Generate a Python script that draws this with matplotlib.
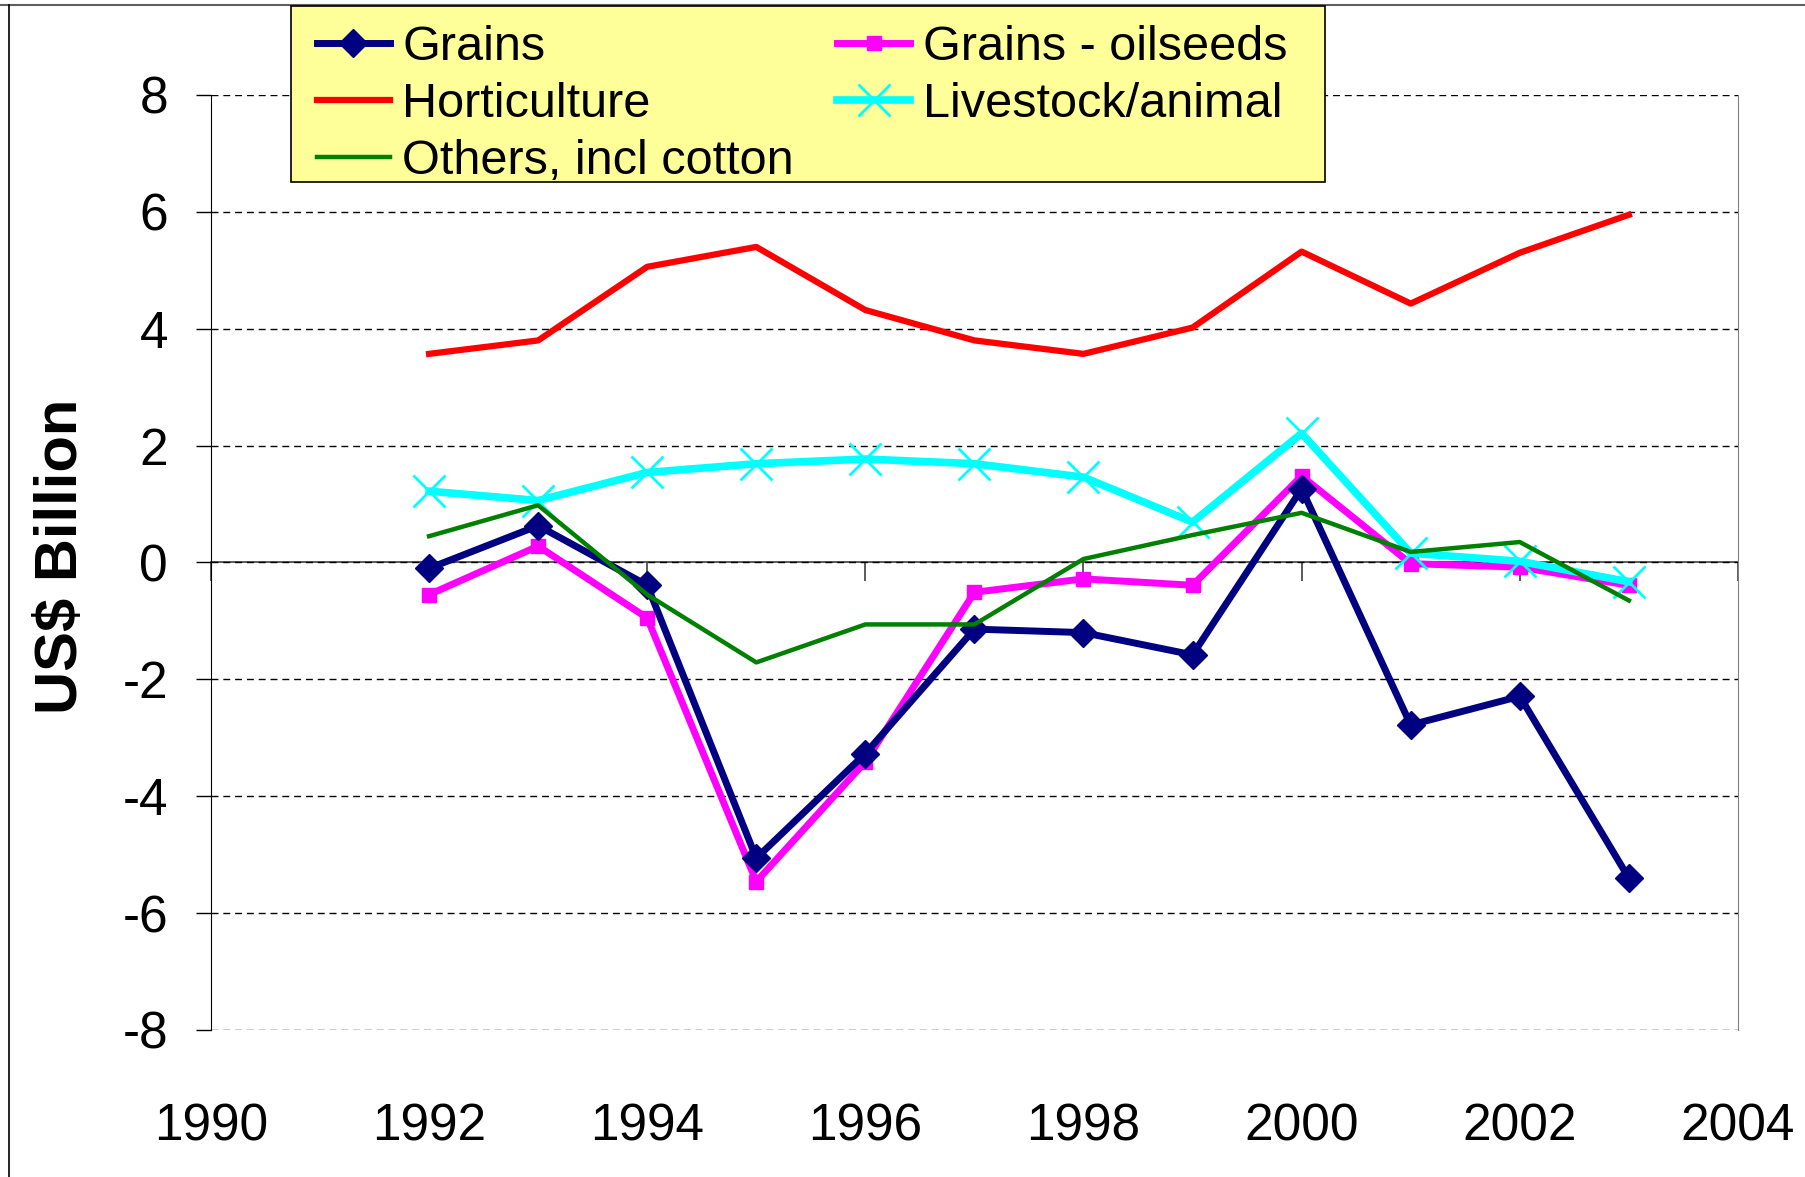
import matplotlib.pyplot as plt
from matplotlib.lines import Line2D
from matplotlib.patches import Rectangle

plt.rcParams['font.family'] = ['Liberation Sans', 'DejaVu Sans']
plt.rcParams['axes.unicode_minus'] = False

# Werte (US$ Mrd.)
years = [1992, 1993, 1994, 1995, 1996, 1997, 1998, 1999, 2000, 2001, 2002, 2003]
grains = [-0.10, 0.63, -0.39, -5.06, -3.27, -1.14, -1.20, -1.58, 1.26, -2.78, -2.29, -5.40]
grains_oilseeds = [-0.55, 0.28, -0.95, -5.46, -3.41, -0.51, -0.28, -0.39, 1.48, -0.02, -0.08, -0.39]
horticulture = [3.57, 3.80, 5.06, 5.40, 4.32, 3.80, 3.57, 4.02, 5.32, 4.43, 5.30, 5.95]
livestock = [1.22, 1.06, 1.54, 1.69, 1.77, 1.69, 1.46, 0.69, 2.21, 0.16, 0.02, -0.33]
others = [0.45, 0.98, -0.55, -1.71, -1.06, -1.06, 0.06, 0.47, 0.85, 0.18, 0.35, -0.65]

xticks = list(range(1990, 2005, 2))
yticks = list(range(-8, 9, 2))

fig = plt.figure(figsize=(18.06, 11.77), dpi=100)
ax = fig.add_axes([0.1168, 0.1249, 0.8455, 0.7944])

ax.plot(years, grains_oilseeds, color='#FF00FF', lw=5, marker='s', ms=10,
        label='Grains - oilseeds', zorder=3)
ax.plot(years, grains, color='#000080', lw=5, marker='D', ms=14,
        label='Grains', zorder=4)
ax.plot(years, horticulture, color='#FF0000', lw=4.5, label='Horticulture', zorder=3)
ax.plot(years, livestock, color='#00FFFF', lw=5.5, marker='x', ms=23, mew=2,
        label='Livestock/animal', zorder=5)
ax.plot(years, others, color='#008000', lw=3.2, label='Others, incl cotton', zorder=6)

ax.set_xlim(1990, 2004)
ax.set_ylim(-8, 8)
ax.set_xticks(xticks)
ax.set_yticks(yticks)
ax.tick_params(axis='x', length=0, pad=52, labelsize=37)
ax.tick_params(axis='y', direction='out', length=11, width=1, pad=20, labelsize=37)

ax.yaxis.grid(True, linestyle=(0, (5, 3.5)), color='black', lw=1)
ax.set_axisbelow(True)
ax.spines['top'].set_visible(False)
ax.spines['bottom'].set_visible(False)
ax.spines['left'].set_color('black')
ax.spines['right'].set_color('#808080')

# Nulllinie mit Teilstrichen
sec = ax.secondary_xaxis(0, transform=ax.transData)
sec.set_xticks(xticks)
sec.xaxis.set_ticks_position('bottom')
sec.tick_params(direction='out', length=14, width=1.2, color='#404040', labelbottom=False, labeltop=False)
for s in sec.spines.values():
    s.set_color('#404040')
    s.set_linewidth(1.2)

fig.text(0.034, 0.5276, 'US\\$ Billion', rotation=90, ha='center', va='center',
         fontsize=43, fontweight='bold')

# Legendenkasten (gelb) separat, Legende ohne eigenen Rahmen
fig.add_artist(Rectangle((291 / 1806, 1 - 182 / 1177), (1325 - 291) / 1806, (182 - 6) / 1177,
                         transform=fig.transFigure, facecolor='#FFFF99', edgecolor='black',
                         lw=1.2, zorder=9))

handles, labels = ax.get_legend_handles_labels()
order = ['Grains', 'Horticulture', 'Others, incl cotton', 'Grains - oilseeds', 'Livestock/animal']
h = [handles[labels.index(l)] for l in order]
leg = fig.legend(h, order, loc='upper left', bbox_to_anchor=(317 / 1806, 1 - 25 / 1177),
                 bbox_transform=fig.transFigure, ncol=2, fontsize=35, numpoints=1,
                 handlelength=1.5, handletextpad=0.25, columnspacing=0.9,
                 labelspacing=0.245, borderpad=0, borderaxespad=0, frameon=False)
leg.set_zorder(10)

# Rahmen um die Grafik
fig.add_artist(Line2D([0, 1], [1 - 5 / 1177] * 2, transform=fig.transFigure, color='#606060', lw=1.5))
fig.add_artist(Line2D([9 / 1806] * 2, [0, 1 - 5 / 1177], transform=fig.transFigure, color='black', lw=1.2))

fig.savefig('out.png', dpi=100)
